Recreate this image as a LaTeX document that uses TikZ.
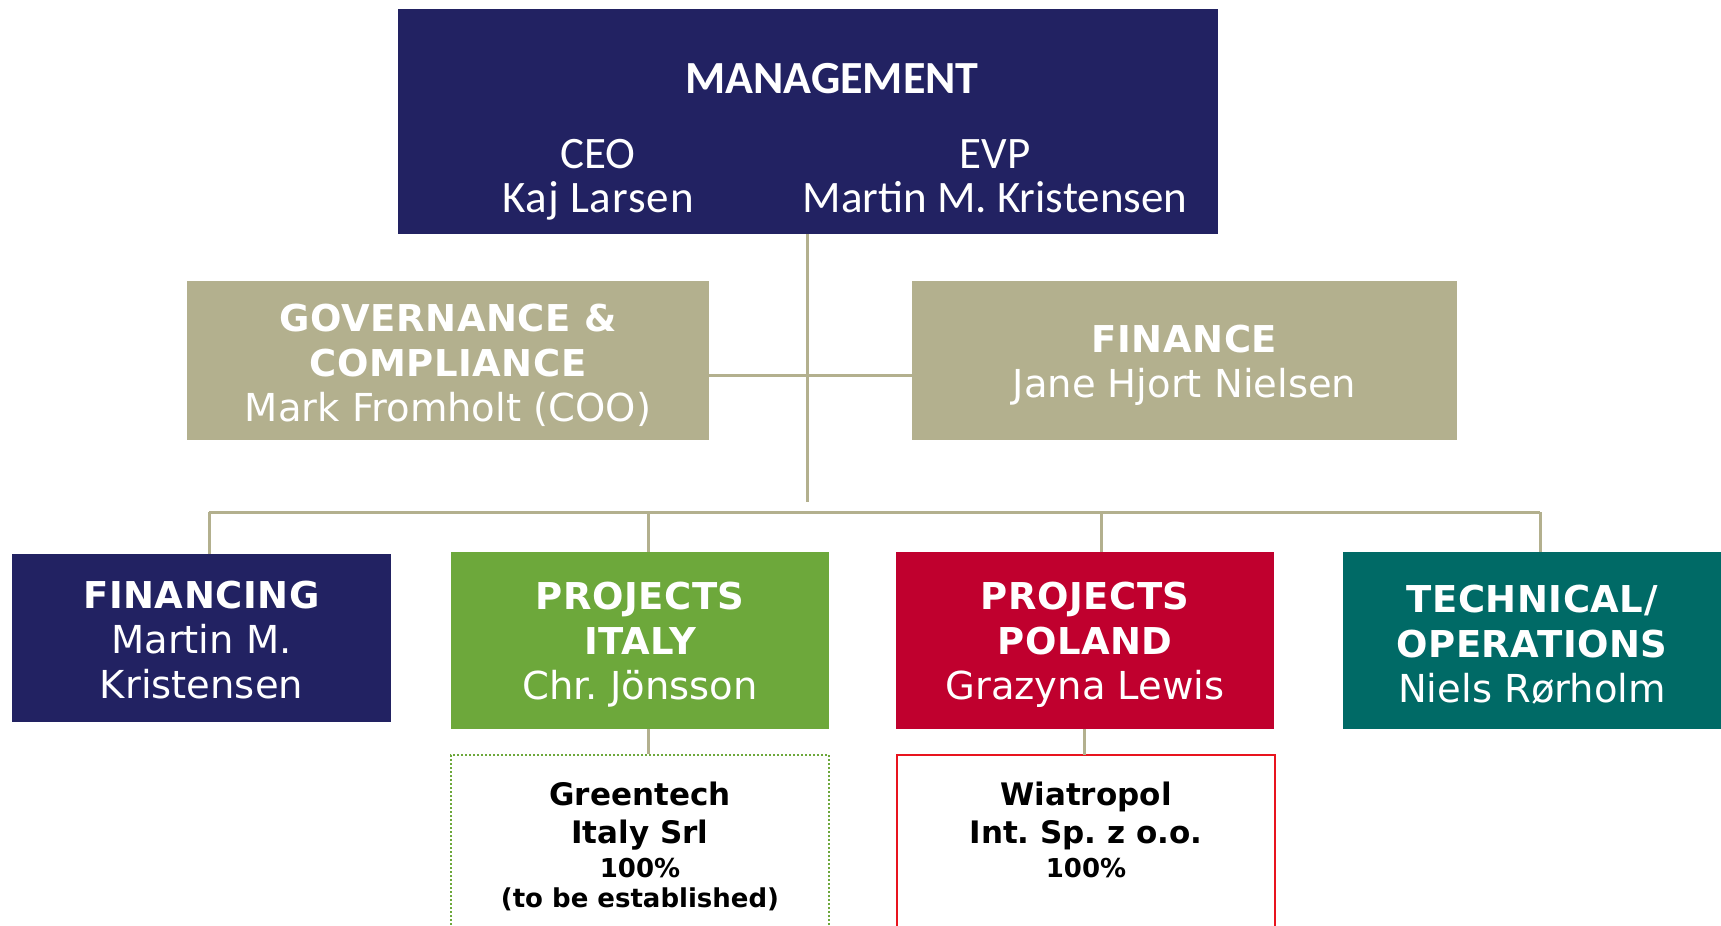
\documentclass[tikz,border=0pt]{standalone}
\usepackage{fontspec}
\newfontfamily\dv{DejaVu Sans}
\newfontfamily\dvhead{DejaVu Sans}[LetterSpace=1.5]
\newfontfamily\cb{Carlito}
\frenchspacing
\definecolor{navy}{HTML}{222262}
\definecolor{khaki}{HTML}{B3B08E}
\definecolor{leaf}{HTML}{6DA83B}
\definecolor{crimson}{HTML}{C0002E}
\definecolor{petrol}{HTML}{006A66}
\definecolor{alertred}{HTML}{E8141E}
\newcommand{\hd}[1]{{\dvhead\bfseries\fontsize{37}{45}\selectfont #1}}
\begin{document}
\begin{tikzpicture}[x=1pt,y=-1pt,
  unit/.style={rectangle, inner sep=0pt},
  unittxt/.style={inner sep=0pt, text=white, align=center,
    font=\dv\fontsize{38.5}{45}\selectfont},
  link/.style={draw=khaki, line width=3pt},
  subbox/.style={rectangle, inner sep=0pt, fill=white, line width=2pt},
  subtxt/.style={anchor=base, inner sep=0pt, text=black},
  mgtxt/.style={anchor=base, inner sep=0pt, text=white, align=center,
    font=\cb\fontsize{45}{45}\selectfont}]
\useasboundingbox (0,0) rectangle (1721,926);
\clip (0,0) rectangle (1721,926);
\fill[white] (0,0) rectangle (1721,926);

% connector anchor points
\coordinate (hub) at (807,502);
\coordinate (gf) at (807,375);
\coordinate (d1) at (209,512);
\coordinate (d2) at (648,512);
\coordinate (d3) at (1101,512);
\coordinate (d4) at (1540,512);
\coordinate (s2) at (1084,755);

% boxes
\node[unit, fill=navy, minimum width=820, minimum height=225] (mgmt) at (808,121.5) {};
\node[unit, fill=khaki, minimum width=522, minimum height=159] (gov) at (448,360.5) {};
\node[unit, fill=khaki, minimum width=545, minimum height=159] (fin) at (1184.5,360.5) {};
\node[unit, fill=navy, minimum width=379, minimum height=168] (fing) at (201.5,638) {};
\node[unit, fill=leaf, minimum width=378, minimum height=177] (ita) at (640,640.5) {};
\node[unit, fill=crimson, minimum width=378, minimum height=177] (pol) at (1085,640.5) {};
\node[unit, fill=petrol, minimum width=378, minimum height=177] (tech) at (1532,640.5) {};

% box texts
\node[unittxt] (govt) at ([yshift=-4.5pt]gov.center)
  {\hd{GOVERNANCE \&}\\\hd{COMPLIANCE}\\Mark Fromholt (COO)};
\node[unittxt] (fint) at ([yshift=-4.5pt]fin.center)
  {\hd{FINANCE}\\Jane Hjort Nielsen};
\node[unittxt] (fingt) at ([yshift=-2.5pt]fing.center)
  {\hd{FINANCING}\\Martin M.\\Kristensen};
\node[unittxt] (itat) at ([yshift=-4.5pt]ita.center)
  {\hd{PROJECTS}\\\hd{ITALY}\\Chr. Jönsson};
\node[unittxt] (polt) at ([yshift=-4.5pt]pol.center)
  {\hd{PROJECTS}\\\hd{POLAND}\\Grazyna Lewis};
\node[unittxt] (techt) at ([yshift=-4.5pt]tech.center)
  {\hd{TECHNICAL/}\\\hd{OPERATIONS}\\Niels Rørholm};

% subsidiaries (boxes run past the lower edge)
\node[subbox, draw=leaf, dotted, minimum width=378, minimum height=220] (gsub) at (640,865) {};
\node[subbox, draw=alertred, minimum width=378, minimum height=220] (wsub) at (1086,865) {};

% management texts
\node[mgtxt, font=\cb\bfseries\fontsize{46}{46}\selectfont] (mtitle) at (832,93) {MANAGEMENT};
\node[mgtxt] (ceo) at (598,168) {CEO};
\node[mgtxt, font=\cb\fontsize{45}{45}\selectfont\addfontfeatures{LetterSpace=2}] (ceoname) at (598,212) {Kaj Larsen};
\node[mgtxt] (evp) at (995,168) {EVP};
\node[mgtxt] (evpname) at (995,212) {Martin M. Kristensen};

% subsidiary texts
\node[subtxt, font=\dv\bfseries\fontsize{31}{31}\selectfont] (g1) at (640,805) {Greentech};
\node[subtxt, font=\dv\bfseries\fontsize{31}{31}\selectfont] (g2) at (640,843) {Italy Srl};
\node[subtxt, font=\dv\bfseries\fontsize{26}{26}\selectfont] (g3) at (640,877) {100\%};
\node[subtxt, font=\dv\bfseries\fontsize{26}{26}\selectfont] (g4) at (640,907) {(to be established)};
\node[subtxt, font=\dv\bfseries\fontsize{31}{31}\selectfont] (w1) at (1086,805) {Wiatropol};
\node[subtxt, font=\dv\bfseries\fontsize{31}{31}\selectfont] (w2) at (1086,843) {Int. Sp. z o.o.};
\node[subtxt, font=\dv\bfseries\fontsize{26}{26}\selectfont] (w3) at (1086,877) {100\%};

% connectors
\draw[link] (mgmt.south -| hub) -- (hub);
\draw[link] (gov.east |- gf) -- (fin.west |- gf);
\draw[link] (d1) -- (d4);
\draw[link] (d1) -- (d1 |- fing.north);
\draw[link] (d2) -- (d2 |- ita.north);
\draw[link] (d3) -- (d3 |- pol.north);
\draw[link] (d4) -- (d4 |- tech.north);
\draw[link] (ita.south -| d2) -- (gsub.north -| d2);
\draw[link] (pol.south -| s2) -- (s2);
\end{tikzpicture}
\end{document}
